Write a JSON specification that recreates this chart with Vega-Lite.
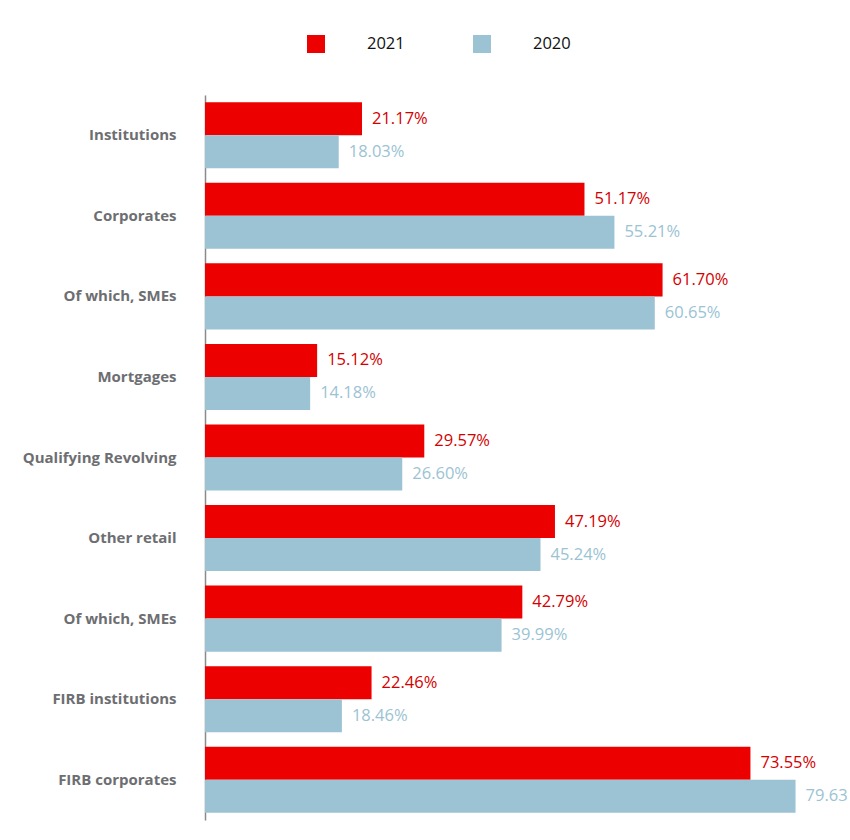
{
  "$schema": "https://vega.github.io/schema/vega-lite/v6.json",
  "width": 640,
  "height": 725,
  "autosize": {"type": "none"},
  "padding": {"left": 205, "top": 95, "right": 5, "bottom": 20},
  "background": "white",
  "config": {"view": {"stroke": null}, "font": "Open Sans"},
  "data": {"values": [
    {"category": "Institutions", "year": "2021", "value": 21.17, "label": "21.17%"},
    {"category": "Institutions", "year": "2020", "value": 18.03, "label": "18.03%"},
    {"category": "Corporates", "year": "2021", "value": 51.17, "label": "51.17%"},
    {"category": "Corporates", "year": "2020", "value": 55.21, "label": "55.21%"},
    {"category": "Of which, SMEs", "year": "2021", "value": 61.70, "label": "61.70%"},
    {"category": "Of which, SMEs", "year": "2020", "value": 60.65, "label": "60.65%"},
    {"category": "Mortgages", "year": "2021", "value": 15.12, "label": "15.12%"},
    {"category": "Mortgages", "year": "2020", "value": 14.18, "label": "14.18%"},
    {"category": "Qualifying Revolving", "year": "2021", "value": 29.57, "label": "29.57%"},
    {"category": "Qualifying Revolving", "year": "2020", "value": 26.60, "label": "26.60%"},
    {"category": "Other retail", "year": "2021", "value": 47.19, "label": "47.19%"},
    {"category": "Other retail", "year": "2020", "value": 45.24, "label": "45.24%"},
    {"category": "Of which, SMEs ", "year": "2021", "value": 42.79, "label": "42.79%"},
    {"category": "Of which, SMEs ", "year": "2020", "value": 39.99, "label": "39.99%"},
    {"category": "FIRB institutions", "year": "2021", "value": 22.46, "label": "22.46%"},
    {"category": "FIRB institutions", "year": "2020", "value": 18.46, "label": "18.46%"},
    {"category": "FIRB corporates", "year": "2021", "value": 73.55, "label": "73.55%"},
    {"category": "FIRB corporates", "year": "2020", "value": 79.63, "label": "79.63"}
  ]},
  "encoding": {
    "y": {
      "field": "category",
      "type": "nominal",
      "sort": ["Institutions", "Corporates", "Of which, SMEs", "Mortgages", "Qualifying Revolving", "Other retail", "Of which, SMEs ", "FIRB institutions", "FIRB corporates"],
      "scale": {"paddingInner": 0.18, "paddingOuter": 0.09},
      "axis": {
        "title": null,
        "ticks": false,
        "labelPadding": 29,
        "labelFontSize": 15,
        "labelFont": "Open Sans",
        "labelFontWeight": "bold",
        "labelColor": "#6d6e71",
        "labelExpr": "trim(datum.label)",
        "domainColor": "#8a8a8a",
        "domainWidth": 1.5
      }
    },
    "yOffset": {"field": "year", "type": "nominal", "sort": ["2021", "2020"], "scale": {"paddingInner": 0}},
    "x": {
      "field": "value",
      "type": "quantitative",
      "scale": {"domain": [0, 86.3], "nice": false},
      "axis": null
    }
  },
  "layer": [
    {
      "mark": {"type": "bar"},
      "encoding": {
        "color": {
          "field": "year",
          "type": "nominal",
          "sort": ["2021", "2020"],
          "scale": {"domain": ["2021", "2020"], "range": ["#ec0000", "#9bc3d3"]},
          "legend": {
            "title": null,
            "orient": "none",
            "legendX": 102,
            "legendY": -60,
            "direction": "horizontal",
            "symbolType": "square",
            "symbolSize": 324,
            "symbolStrokeWidth": 0,
            "labelFontSize": 16.5,
            "labelColor": "#111111",
            "labelOffset": 42,
            "columnPadding": 68
          }
        }
      }
    },
    {
      "mark": {"type": "text", "align": "left", "baseline": "middle", "dx": 10, "fontSize": 16.5, "font": "Open Sans"},
      "encoding": {
        "text": {"field": "label"},
        "color": {
          "field": "year",
          "type": "nominal",
          "scale": {"domain": ["2021", "2020"], "range": ["#d40000", "#9bc3d3"]},
          "legend": null
        }
      }
    }
  ],
  "resolve": {"scale": {"color": "independent"}}
}
